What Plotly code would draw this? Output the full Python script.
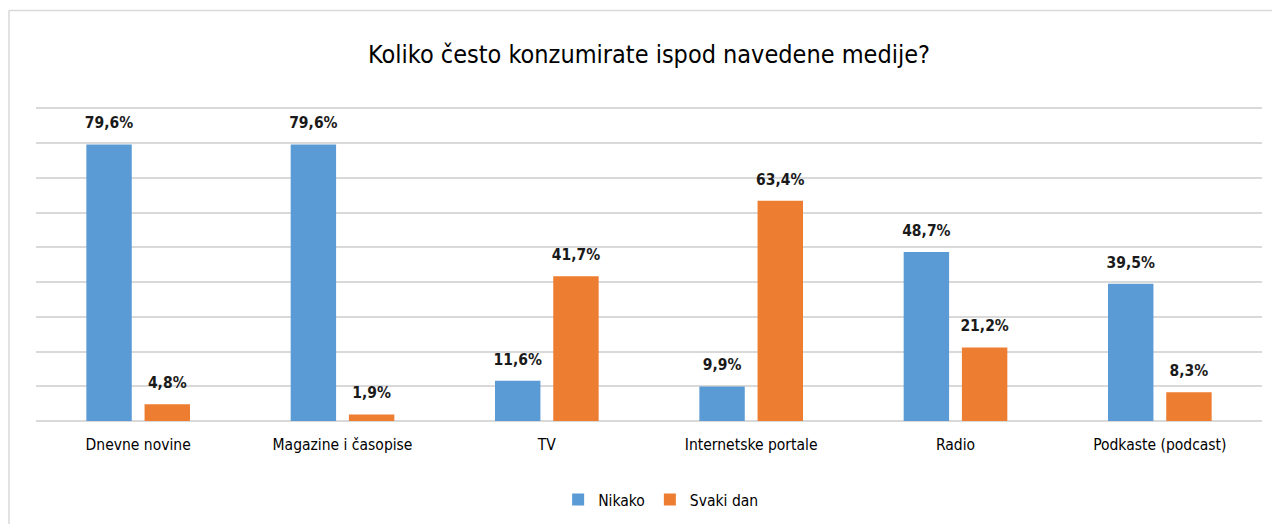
import plotly.graph_objects as go

categories = ["Dnevne novine", "Magazine i časopise", "TV", "Internetske portale", "Radio", "Podkaste (podcast)"]
nikako = [79.6, 79.6, 11.6, 9.9, 48.7, 39.5]
svaki_dan = [4.8, 1.9, 41.7, 63.4, 21.2, 8.3]
series_names = ["Nikako", "Svaki dan"]
title_text = "Koliko često konzumirate ispod navedene medije?"

FONT = "DejaVu Sans Condensed"
BLUE = "#5B9BD5"
ORANGE = "#ED7D31"
OFF = 8  # page body margin offset

def fmt(v):
    return f"{v:.1f}".replace(".", ",") + "%"

fig = go.Figure()
for i, (name, vals, col) in enumerate([(series_names[0], nikako, BLUE), (series_names[1], svaki_dan, ORANGE)]):
    fig.add_trace(go.Bar(
        x=categories, y=vals, name=name,
        marker=dict(color=col, line=dict(width=0)),
        offsetgroup=str(i), alignmentgroup="g",
    ))
for i, vals in enumerate([nikako, svaki_dan]):
    fig.add_trace(go.Scatter(
        x=categories, y=vals, mode="markers+text",
        text=[fmt(v) for v in vals], textposition="top center",
        marker=dict(size=18, opacity=0),
        textfont=dict(family=FONT, size=15.5, color="#1a1a1a", weight="bold"),
        offsetgroup=str(i), alignmentgroup="g",
        showlegend=False, hoverinfo="skip", cliponaxis=False,
    ))

W, H = 1280 - 2 * OFF, 532 - 2 * OFF
YMAX = 91
# target plot area in viewport: x 36..1262, 90% line at y=108, 0 at y=421
px_per = (421 - 108) / 90.0
L = 36 - OFF
R = W - (1262 - OFF)
B = H - (421 - OFF)
T = (H - B) - YMAX * px_per
pw, ph = W - L - R, H - T - B

bx0 = (1 - L) / pw
bx1 = (W + 30 - L) / pw
by0 = -(H + 30 - (H - B)) / ph
by1 = ((H - B) - (10 - OFF)) / ph

fig.update_layout(
    width=W, height=H,
    margin=dict(l=L, r=R, t=T, b=B, autoexpand=False),
    paper_bgcolor="white", plot_bgcolor="white",
    barmode="group", bargap=0.43, bargroupgap=0.22,
    scattermode="group", scattergap=0.43,
    title=dict(text=title_text, x=(649 - OFF) / W, xanchor="center", y=1 - (54 - OFF) / H, yanchor="middle",
               font=dict(family=FONT, size=25, color="#000000")),
    xaxis=dict(showgrid=False, showline=False, ticks="", zeroline=False,
               tickfont=dict(family=FONT, size=15.5, color="#000000"), ticklabelstandoff=12),
    yaxis=dict(range=[0, YMAX], tickvals=list(range(10, 91, 10)), showticklabels=False, showgrid=True,
               gridcolor="#D9D9D9", gridwidth=1.5, zeroline=True, zerolinecolor="#D9D9D9",
               zerolinewidth=1.5, showline=False),
    legend=dict(orientation="h", x=(652 - OFF) / W, xanchor="center", yref="container",
                y=1 - (500 - OFF) / H, yanchor="middle",
                font=dict(family=FONT, size=15.5, color="#000000"), itemwidth=30),
    showlegend=True,
    shapes=[
        dict(type="line", xref="paper", yref="paper", x0=bx0, x1=bx1, y0=by1, y1=by1,
             line=dict(color="#D9D9D9", width=1.5), layer="below"),
        dict(type="line", xref="paper", yref="paper", x0=bx0, x1=bx0, y0=by0, y1=by1,
             line=dict(color="#D9D9D9", width=1.5), layer="below"),
    ],
)

fig.write_html("out.html")
